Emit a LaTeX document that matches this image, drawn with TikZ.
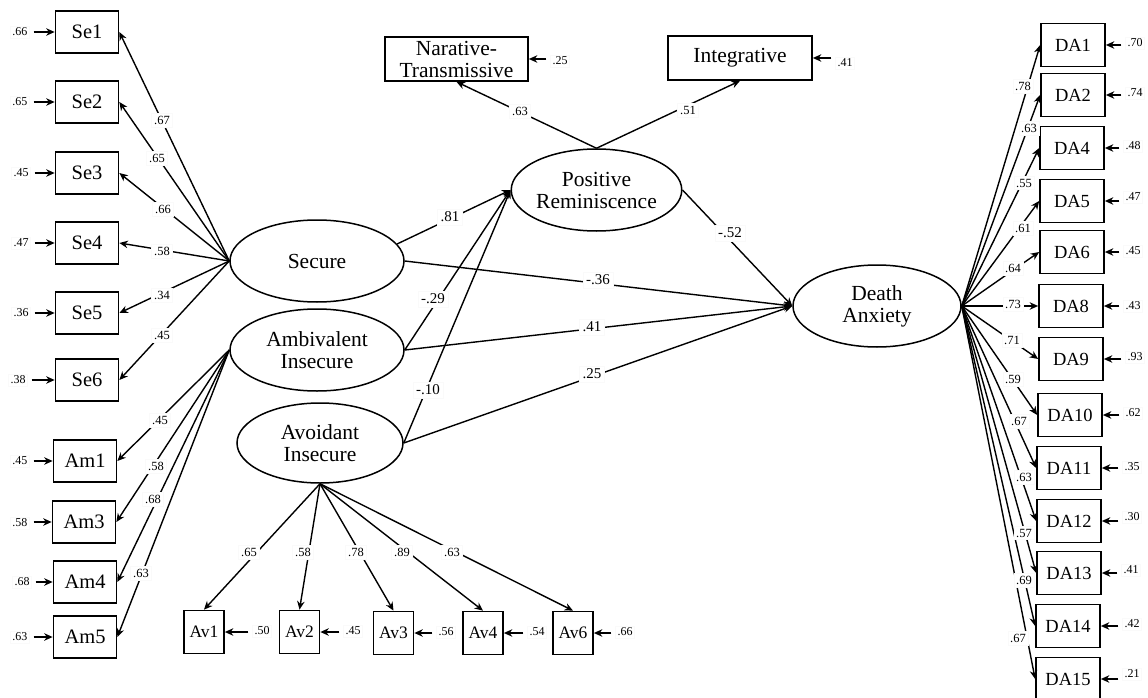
\documentclass[tikz,border=0pt]{standalone}
\usepackage{fontspec}
\setmainfont{Liberation Serif}
\usetikzlibrary{shapes.geometric,arrows.meta}
\begin{document}
\begin{tikzpicture}[x=1pt,y=-1pt,
  obs/.style={draw,line width=1.7pt,minimum width=63pt,minimum height=42pt,inner sep=0pt,font=\fontsize{20.5}{22}\selectfont},
  obsav/.style={obs,minimum width=40pt,minimum height=43pt,font=\fontsize{17.5}{20}\selectfont},
  obsda/.style={obs,minimum width=64pt,minimum height=43pt,font=\fontsize{18.5}{20}\selectfont},
  obstop/.style={obs,minimum width=143pt,minimum height=44pt,align=center,font=\fontsize{21.5}{22}\selectfont},
  lat/.style={ellipse,draw,line width=1.5pt,inner sep=0pt,align=center,font=\fontsize{21.5}{22}\selectfont},
  err/.style={fill=white,draw=black!2,inner sep=2pt,font=\fontsize{12}{13}\selectfont},
  wl/.style={fill=white,draw=black!2,inner sep=2.5pt,font=\fontsize{12.5}{13}\selectfont},
  pl/.style={fill=white,draw=black!2,inner sep=3pt,font=\fontsize{15}{16}\selectfont},
  arr/.style={line width=1.4pt,-{Stealth[length=8.5pt,width=7.5pt]}},
  earr/.style={line width=1.4pt,-{Stealth[length=8.5pt,width=7.5pt]}},
]
\useasboundingbox[fill=white] (0,0) rectangle (1148,698);

% latent variables
\node[lat,minimum width=174pt,minimum height=82pt] (sec) at (317,261) {Secure};
\node[lat,minimum width=174pt,minimum height=82pt] (amb) at (317,350) {Ambivalent\\Insecure};
\node[lat,minimum width=166pt,minimum height=80pt] (avo) at (320,443) {Avoidant\\Insecure};
\node[lat,minimum width=167pt,minimum height=82pt] (pr) at (596.5,190) {Positive\\Reminiscence};
\node[lat,minimum width=168pt,minimum height=82pt] (da) at (877,306) {Death\\Anxiety};

% observed variables
\node[obstop] (nt) at (456.5,59) {Narative-\\Transmissive};
\node[obstop,minimum width=144pt] (ig) at (740,58) {Integrative};

\foreach \n/\x/\y/\t in {se1/87/32/Se1,se2/87/102/Se2,se3/87/173/Se3,se4/87/243/Se4,se5/87/313/Se5,se6/87/380/Se6,
  am1/85/461/Am1,am3/84/522/Am3,am4/85/582/Am4,am5/85/637/Am5}
  \node[obs] (\n) at (\x,\y) {\t};

\foreach \n/\x/\y/\t in {av1/204/632/Av1,av2/299.5/632/Av2,av3/393.5/633/Av3,av4/483/633/Av4,av6/573/633/Av6}
  \node[obsav] (\n) at (\x,\y) {\t};

\foreach \n/\x/\y/\t in {da1/1073/45/DA1,da2/1073/95/DA2,da4/1072/148/DA4,da5/1072/201/DA5,da6/1072/252/DA6,
  da8/1071/306/DA8,da9/1071/359/DA9,da10/1070/415/DA10,da11/1069/468/DA11,da12/1069/521/DA12,
  da13/1069/573/DA13,da14/1068/626/DA14,da15/1068/679/DA15}
  \node[obsda] (\n) at (\x,\y) {\t};

% loadings
\foreach \n in {se1,se2,se3,se4,se5,se6} \draw[arr] (sec.west) -- (\n.east);
\foreach \n in {am1,am3,am4,am5} \draw[arr] (amb.west) -- (\n.east);
\foreach \n in {av1,av2,av3,av4,av6} \draw[arr] (avo.south) -- (\n.north);
\foreach \n in {da1,da2,da4,da5,da6,da8,da9,da10,da11,da12,da13,da14,da15} \draw[arr] (da.east) -- (\n.west);
\draw[arr] (pr.north) -- (nt.south);
\draw[arr] (pr.north) -- (ig.south);

% structural paths
\draw[arr] (sec.12) -- (pr.west);
\draw[arr] (amb.east) -- (pr.west);
\draw[arr] (avo.east) -- (pr.west);
\draw[arr] (sec.east) -- (da.west);
\draw[arr] (amb.east) -- (da.west);
\draw[arr] (avo.east) -- (da.west);
\draw[arr] (pr.east) -- (da.west);

% error terms (left side)
\foreach \n/\x/\y/\v in {se1/20/32/.66,se2/20/102/.65,se3/21/173/.45,se4/21/243/.47,se5/21/313/.36,se6/18/380/.38,
  am1/20/461/.45,am3/20/523/.58,am4/22/582/.68,am5/20/637/.63}
{
  \node[err] (e\n) at (\x,\y) {\v};
  \draw[earr] ([xshift=4pt]e\n.east |- \n.west) -- (\n.west);
}
% error terms (right side)
\foreach \n/\x/\y/\v in {nt/560/61/.25,ig/845/63/.41,
  av1/262/631/.50,av2/353/631/.45,av3/446/632/.56,av4/537/632/.54,av6/625/632/.66,
  da1/1135/43/.70,da2/1135/93/.74,da4/1133/146/.48,da5/1133/197/.47,da6/1133/251/.45,da8/1133/306/.43,
  da9/1135/357/.93,da10/1133/413/.62,da11/1132/467/.35,da12/1132/517/.30,da13/1131/570/.41,
  da14/1132/624/.42,da15/1132/674/.21}
{
  \node[err] (e\n) at (\x,\y) {\v};
  \draw[earr] ([xshift=-4pt]e\n.west |- \n.east) -- (\n.east);
}

% loading labels
\foreach \x/\y/\v [count=\i] in {162/120/.67,157/158/.65,163/209/.66,162/251/.58,162/295/.34,162/335/.45,
  160/420/.45,156/466/.58,153/499/.68,141/573/.63,
  249/552/.65,303/552/.58,356/552/.78,402/552/.89,452/552/.63,
  1023/86/.78,1029/128/.63,1024/183/.55,1023/228/.61,1013/268/.64,1013/304/.73,1012/340/.71,
  1013/379/.59,1019/421/.67,1024/477/.63,1024/533/.57,1024/580/.69,1018/638/.67}
  \node[wl] (w\i) at (\x,\y) {\v};

\node[wl,font=\fontsize{12.5}{13}\selectfont] (wnt) at (520,111) {.63};
\node[wl,font=\fontsize{12.5}{13}\selectfont] (wig) at (688,110) {.51};

% structural labels
\node[pl] (p1) at (450,217) {.81};
\node[pl] (p2) at (730,233) {-.52};
\node[pl] (p3) at (598,280) {-.36};
\node[pl] (p4) at (433,299) {-.29};
\node[pl] (p5) at (592,327) {.41};
\node[pl] (p6) at (428,390) {-.10};
\node[pl] (p7) at (592,374) {.25};
\end{tikzpicture}
\end{document}
